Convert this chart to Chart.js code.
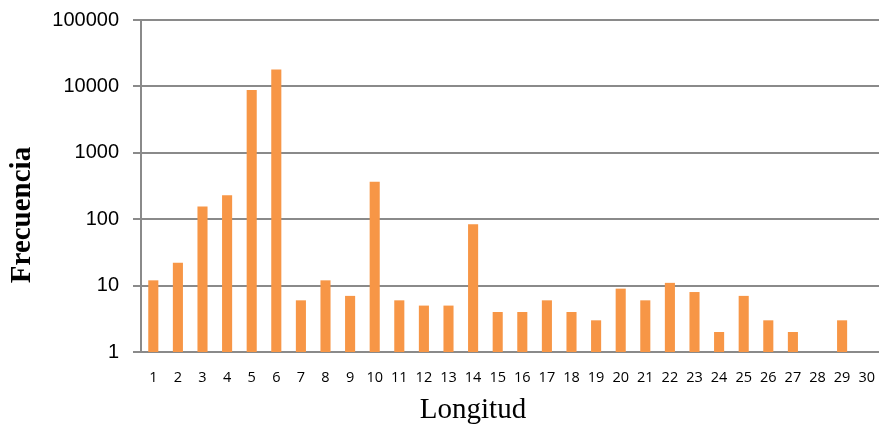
<!DOCTYPE html>
<html>
<head>
<meta charset="utf-8">
<script src="https://cdn.jsdelivr.net/npm/chart.js@4/dist/chart.umd.min.js"></script>
<style>
  html, body { margin: 0; padding: 0; background: #fff; }
  #wrap { width: 879px; height: 430px; }
</style>
</head>
<body>
<div id="wrap"><canvas id="chart"></canvas></div>
<script>
// Longitud 1..30
const longitudes = ['1','2','3','4','5','6','7','8','9','10','11','12','13','14','15',
  '16','17','18','19','20','21','22','23','24','25','26','27','28','29','30'];
// Frecuencia (28 y 30 sin barra)
const frecuencias = [12, 22, 155, 229, 8800, 18000, 6, 12, 7, 365, 6, 5, 5, 84, 4,
  4, 6, 4, 3, 9, 6, 11, 8, 2, 7, 3, 2, null, 3, null];
const yTicks = [1, 10, 100, 1000, 10000, 100000];

const gris = '#8a8a8a';

// titulos de ejes, colocados como en el original (no centrados en el area)
const titulos = {
  id: 'titulos',
  afterDraw(chart) {
    const ctx = chart.ctx;
    ctx.save();
    ctx.fillStyle = '#000';
    ctx.textAlign = 'center';
    ctx.textBaseline = 'middle';
    ctx.font = '29px "Liberation Serif"';
    ctx.fillText('Longitud', 473, 410);
    ctx.translate(23, 215);
    ctx.rotate(-Math.PI / 2);
    ctx.font = 'bold 29px "Liberation Serif"';
    ctx.fillText('Frecuencia', 0, 0);
    ctx.restore();
  }
};

new Chart(document.getElementById('chart'), {
  type: 'bar',
  data: {
    labels: longitudes,
    datasets: [{
      data: frecuencias,
      backgroundColor: '#F79646',
      borderWidth: 0,
      barPercentage: 0.82,
      categoryPercentage: 0.5
    }]
  },
  plugins: [titulos],
  options: {
    responsive: true,
    maintainAspectRatio: false,
    animation: false,
    layout: { padding: { top: 20, right: 0, left: 0, bottom: 0 } },
    plugins: { legend: { display: false }, tooltip: { enabled: false } },
    scales: {
      x: {
        grid: { display: false },
        border: { display: false },
        ticks: { color: '#000', font: { family: 'Open Sans', size: 14.5 }, padding: 9, maxRotation: 0, autoSkip: false },
        afterFit: s => { s.height = 78; s.paddingLeft = 0; s.paddingRight = 0; }
      },
      y: {
        type: 'logarithmic',
        min: 1,
        max: 100000,
        afterBuildTicks: s => { s.ticks = yTicks.map(v => ({ value: v })); },
        grid: { color: gris, lineWidth: 2, tickLength: 8, drawTicks: true },
        border: { display: true, color: gris, width: 2 },
        ticks: {
          color: '#000',
          font: { family: 'Liberation Sans', size: 20 },
          padding: 14,
          callback: v => String(v)
        },
        afterFit: s => { s.width = 141; s.paddingTop = 0; s.paddingBottom = 0; }
      }
    }
  }
});
</script>
</body>
</html>
